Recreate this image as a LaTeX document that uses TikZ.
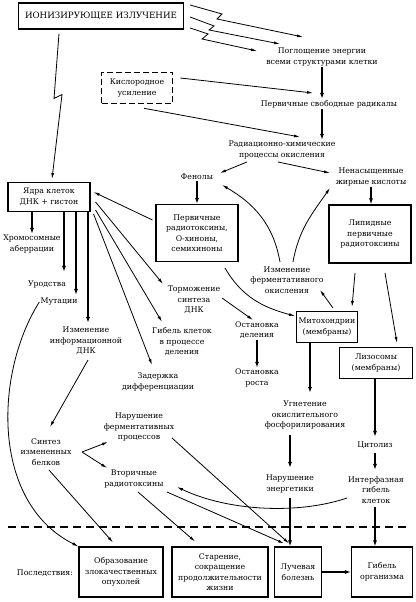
\documentclass[tikz,border=0pt]{standalone}
\usepackage{fontspec}
\setmainfont{DejaVu Serif}
\usetikzlibrary{arrows.meta}

\begin{document}
\begin{tikzpicture}[x=1pt, y=1pt,
    every node/.style={font=\fontsize{7.8}{10.5}\selectfont, align=center, inner sep=1pt},
    box/.style={draw, line width=1.1pt, inner sep=0pt},
    arr/.style={-{Latex[length=6pt,width=3pt]}, line width=0.8pt},
    thk/.style={-{Latex[length=6pt,width=4pt]}, line width=1.8pt}]
\useasboundingbox (0,0) rectangle (415,602);

\node[box, minimum width=165, minimum height=26, font=\fontsize{8.7}{12}\selectfont] (ion) at (101,586) {ИОНИЗИРУЮЩЕЕ ИЗЛУЧЕНИЕ};
\node (absorb) at (322,545) {Поглощение энергии\\всеми структурами клетки};
\node (rad) at (329,498) {Первичные свободные радикалы};
\node (oxid) at (282,452) {Радиационно-химические\\процессы окисления};
\node[box, line width=1.6pt, dash pattern=on 6pt off 3pt, minimum width=71, minimum height=31] (oxy) at (137,514) {Кислородное\\усиление};
\node (phen) at (197,425) {Фенолы};
\node (fatty) at (371,425) {Ненасыщенные\\жирные кислоты};
\node[box, minimum width=82, minimum height=58] (lipid) at (370,368) {Липидные\\первичные\\радиотоксины};
\node[box, minimum width=82, minimum height=57] (prim) at (197,369) {Первичные\\радиотоксины,\\О-хиноны,\\семихиноны};
\node[box, minimum width=82, minimum height=29] (nucl) at (49,405) {Ядра клеток\\ДНК + гистон};
\node (enzox) at (287,322) {Изменение\\ферментативного\\окисления};
\node[box, minimum width=61, minimum height=31] (mito) at (327,275) {Митохондрии\\(мембраны)};
\node[box, minimum width=73, minimum height=31] (lyso) at (376,239) {Лизосомы\\(мембраны)};
\node (chrom) at (32,358) {Хромосомные\\аберрации};
\node (freak) at (47,318) {Уродства};
\node (mut) at (59,300) {Мутации};
\node (infdna) at (86,261) {Изменение\\информационной\\ДНК};
\node (inhib) at (194,302) {Торможение\\синтеза\\ДНК};
\node (death) at (182,260) {Гибель клеток\\в процессе\\деления};
\node (delay) at (158,220) {Задержка\\дифференциации};
\node (stopdiv) at (257,272) {Остановка\\деления};
\node (stopgr) at (257,224) {Остановка\\роста};
\node (phos) at (305,187) {Угнетение\\окислительного\\фосфорилирования};
\node (energy) at (290,118) {Нарушение\\энергетики};
\node (cytol) at (375,157) {Цитолиз};
\node (interph) at (376,112) {Интерфазная\\гибель\\клеток};
\node (synth) at (46,150) {Синтез\\измененных\\белков};
\node (enzproc) at (139,175) {Нарушение\\ферментативных\\процессов};
\node (second) at (134,123) {Вторичные\\радиотоксины};
\node[box, minimum width=84, minimum height=50] (tumor) at (121,30) {Образование\\злокачественных\\опухолей};
\node[box, minimum width=96, minimum height=50] (aging) at (220,30) {Старение,\\сокращение\\продолжительности\\жизни};
\node[box, minimum width=47, minimum height=50] (radsick) at (298,30) {Лучевая\\болезнь};
\node[box, minimum width=61, minimum height=50] (organ) at (382,30) {Гибель\\организма};
\node (conseq) at (45,29) {Последствия:};

\draw[line width=1.6pt, dash pattern=on 8pt off 5pt] (8,75) -- (410,75);

\draw[arr] ([shift={(6,11)}]ion.east) -- ++(32,-9) -- ++(-5,-5) -- ([shift={(-19,20)}]absorb.center);
\draw[arr] ([shift={(6,-1)}]ion.east) -- ++(24,-9) -- ++(-5,-4) -- ([shift={(-42,13)}]absorb.center);
\draw[arr] ([shift={(6,-12)}]ion.east) -- ++(18,-6) -- ++(-6,-5) -- ([shift={(-65,6)}]absorb.center);
\draw[arr] ([shift={(-42,-4)}]ion.south) -- ++(-5,-65) -- ++(8,4) -- ([shift={(3,3)}]nucl.north);

\draw[thk] (absorb.south) -- (absorb.south |- rad.north);
\draw[thk] (absorb.south |- rad.south) -- (absorb.south |- oxid.north);
\draw[arr] ([shift={(7,10)}]oxy.east) -- ([shift={(-16,11)}]rad.center);
\draw[arr] ([shift={(7,-4)}]oxy.south) -- ([shift={(18,13)}]oxid.center);
\draw[arr] ([shift={(-35,-12)}]oxid.center) -- ([shift={(23,4)}]phen.center);
\draw[arr] ([shift={(-4,-12)}]oxid.center) -- ([shift={(-41,4)}]fatty.center);
\draw[thk] (fatty.south) -- (fatty.south |- lipid.north);
\draw[thk] (phen) -- (prim);
\draw[arr] ([shift={(-3,13)}]prim.west) -- ([shift={(3,5)}]nucl.east);

\draw[arr] ([shift={(-7,18)}]enzox.center) to[out=100, in=-30] ([shift={(25,-8)}]phen.center);
\draw[arr] ([shift={(6,18)}]enzox.center) to[out=80, in=-125] ([shift={(-41,-11)}]fatty.center);
\draw[arr] ([shift={(-15,-39)}]lipid.center) -- ([shift={(25,20)}]mito.center);
\draw[arr] ([shift={(15,-39)}]lipid.center) -- ([shift={(21,20)}]lyso.center);
\draw[arr] ([shift={(6,19)}]mito.center) -- ([shift={(33,-10)}]enzox.center);
\draw[arr] ([shift={(28,-35)}]prim.center) to[out=-60, in=165] ([shift={(-32,11)}]mito.center);

\draw[thk] (chrom.north |- nucl.south) -- (chrom.north);
\draw[thk] ([xshift=15]nucl.south) -- ([shift={(17,12)}]freak.center);
\draw[thk] ([xshift=27]nucl.south) -- ([shift={(17,7)}]mut.center);
\draw[thk] ([xshift=39]nucl.south) -- ([shift={(2,18)}]infdna.center);
\draw[arr] ([shift={(5,-5)}]nucl.east) -- ([shift={(-31,16)}]inhib.center);
\draw[arr] ([shift={(5,-13)}]nucl.east) -- ([shift={(-20,20)}]death.center);
\draw[arr] ([shift={(3,-17)}]nucl.east) -- ([shift={(-6,17)}]delay.center);
\draw[arr] ([shift={(28,2)}]inhib.center) -- ([shift={(-4,10)}]stopdiv.center);
\draw[thk] (stopdiv) -- (stopgr);

\draw[thk] ([xshift=-17]mito.south) -- ([shift={(5,22)}]phos.center);
\draw[thk] ([shift={(-15,-20)}]phos.center) -- ([yshift=16]energy.center);
\draw[thk] ([yshift=-14]energy.center) -- ([xshift=-8]radsick.north);
\draw[thk] ([xshift=-1]lyso.south) -- ([yshift=8]cytol.center);
\draw[thk] ([yshift=-8]cytol.center) -- ([shift={(-1,20)}]interph.center);
\draw[thk] ([shift={(-1,-17)}]interph.center) -- ([xshift=-7]organ.north);
\draw[thk] (radsick) -- (organ);

\draw[arr] (mut.west) .. controls (-5,230) and (-10,100) .. (tumor.north west);
\draw[arr] ([shift={(2,-19)}]infdna.center) -- ([shift={(4,25)}]synth.center);
\draw[arr] ([xshift=36]synth.center) -- ([shift={(-31,-15)}]enzproc.center);
\draw[arr] ([xshift=36]synth.center) -- ([shift={(-27,11)}]second.center);
\draw[arr] ([shift={(3,-18)}]synth.center) -- ([shift={(-8,4)}]tumor.north);
\draw[arr] ([shift={(4,-13)}]second.center) -- ([shift={(-25,5)}]aging.north);
\draw[arr] ([shift={(33,-13)}]second.center) -- ([shift={(-14,3)}]radsick.north);
\draw[arr] ([shift={(33,-11)}]enzproc.center) -- ([shift={(-9,3)}]radsick.north);
\draw[arr] ([shift={(-29,-8)}]interph.center) .. controls (300,88) and (230,90) .. ([shift={(43,-8)}]second.center);
\end{tikzpicture}
\end{document}
